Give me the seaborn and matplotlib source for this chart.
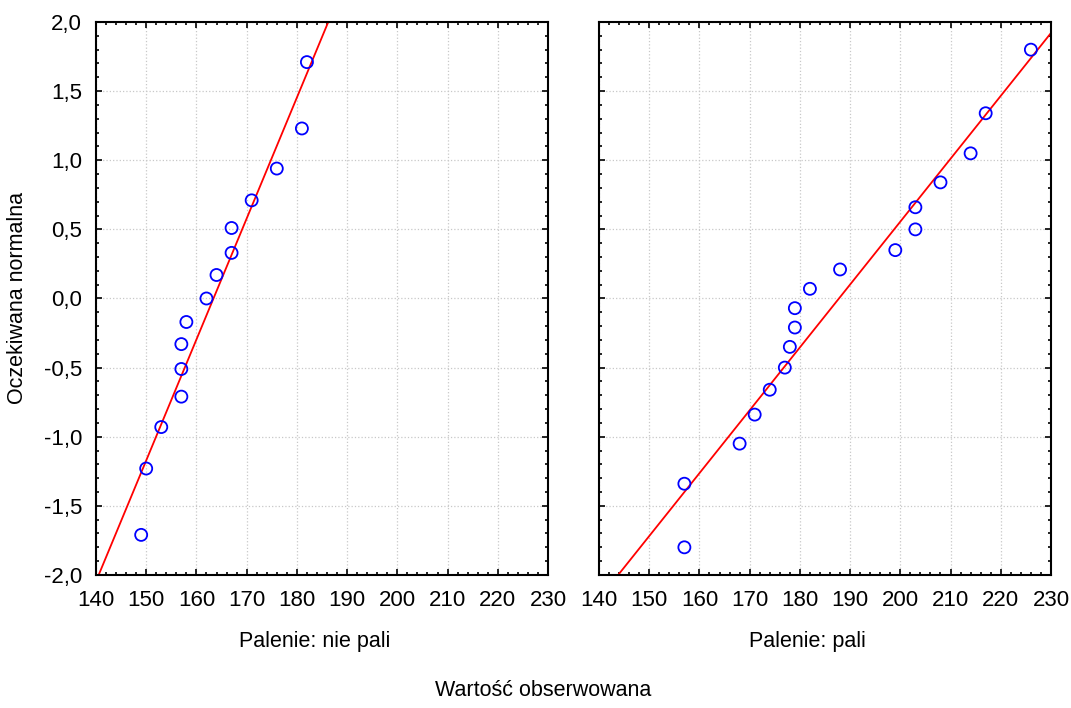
import numpy as np
import pandas as pd
import matplotlib as mpl
mpl.use("Agg")
import matplotlib.pyplot as plt
from matplotlib.ticker import MultipleLocator, FuncFormatter
import seaborn as sns

# =============================================
# 1. Data
# =============================================
groups = ["Palenie: nie pali", "Palenie: pali"]

obs_nie_pali = [149, 150, 153, 157, 157, 157, 158, 162, 164, 167, 167, 171, 176, 181, 182]
exp_nie_pali = [-1.71, -1.23, -0.93, -0.71, -0.51, -0.33, -0.17, 0.00, 0.17, 0.33, 0.51,
                0.71, 0.94, 1.23, 1.71]

obs_pali = [157, 157, 168, 171, 174, 177, 178, 179, 179, 182, 188, 199, 203, 203, 208,
            214, 217, 226]
exp_pali = [-1.80, -1.34, -1.05, -0.84, -0.66, -0.50, -0.35, -0.21, -0.07, 0.07, 0.21,
            0.35, 0.50, 0.66, 0.84, 1.05, 1.34, 1.80]

x_ticks = np.arange(140, 231, 10)
y_ticks = np.arange(-2.0, 2.01, 0.5)

df = pd.concat([
    pd.DataFrame({"obs": obs_nie_pali, "exp": exp_nie_pali, "grp": groups[0]}),
    pd.DataFrame({"obs": obs_pali, "exp": exp_pali, "grp": groups[1]}),
])

# =============================================
# 2. Plotting
# =============================================
sns.set_style("ticks")
plt.rcParams["font.family"] = ["Liberation Sans", "DejaVu Sans"]
plt.rcParams["font.size"] = 16
plt.rcParams["text.color"] = "black"

fig = plt.figure(figsize=(10.71, 7.08), dpi=100)
ax1 = fig.add_axes([0.0896, 0.1879, 0.4221, 0.7810])
ax2 = fig.add_axes([0.5593, 0.1879, 0.4220, 0.7810])

comma = FuncFormatter(lambda v, p: ("%.1f" % v).replace(".", ","))

for ax, g in zip([ax1, ax2], groups):
    d = df[df.grp == g]
    ax.set_xlim(140, 230)
    ax.set_ylim(-2.0, 2.0)
    sns.regplot(x="obs", y="exp", data=d, ax=ax, scatter=False, ci=None,
                truncate=False, color="red", line_kws={"linewidth": 1.3})
    sns.scatterplot(x="obs", y="exp", data=d, ax=ax, marker="o", s=75,
                    facecolor="none", edgecolor="blue", linewidth=1.3, zorder=3)
    ax.set_xlim(140, 230)
    ax.set_ylim(-2.0, 2.0)
    ax.set_xticks(x_ticks)
    ax.set_yticks(y_ticks)
    ax.xaxis.set_minor_locator(MultipleLocator(2))
    ax.yaxis.set_minor_locator(MultipleLocator(0.1))
    ax.yaxis.set_major_formatter(comma)
    ax.tick_params(which="both", direction="in", top=True, right=True,
                   labelsize=16, width=1.2, colors="black")
    ax.tick_params(which="major", length=4.5)
    ax.tick_params(axis="x", which="major", pad=11)
    ax.tick_params(axis="y", which="major", pad=10)
    ax.tick_params(which="minor", length=2.5)
    ax.grid(True, which="major", color="#c8c8c8", linestyle=":", linewidth=0.9)
    for s in ax.spines.values():
        s.set_linewidth(1.5)
        s.set_color("black")
    ax.set_xlabel("")
    ax.set_ylabel("")

ax2.tick_params(labelleft=False)

fig.text(315 / 1071, 1 - 641 / 708, groups[0], ha="center", va="center", fontsize=15.5)
fig.text(807 / 1071, 1 - 641 / 708, groups[1], ha="center", va="center", fontsize=15.5)
fig.text(543 / 1071, 1 - 690 / 708, "Wartość obserwowana", ha="center", va="center",
         fontsize=15.5)
fig.text(18 / 1071, 1 - 298 / 708, "Oczekiwana normalna", ha="center", va="center",
         rotation=90, fontsize=15.5)

fig.savefig("out.png", dpi=100)
